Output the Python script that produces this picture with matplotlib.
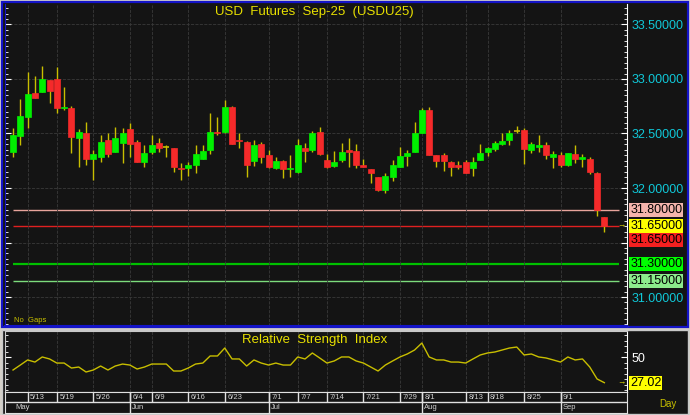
import matplotlib
matplotlib.use("Agg")
import matplotlib.pyplot as plt
from matplotlib.patches import Rectangle
from matplotlib.ticker import MultipleLocator

plt.rcParams['font.family'] = ['Liberation Sans', 'DejaVu Sans']

# daily candles, USD futures Sep-25
opens = [32.33, 32.48, 32.65, 32.87, 32.88, 32.99, 33.00, 32.73, 32.73, 32.46,
         32.50, 32.27, 32.28, 32.44, 32.33, 32.41, 32.54, 32.42, 32.24, 32.33,
         32.41, 32.38, 32.37, 32.18, 32.18, 32.21, 32.27, 32.35, 32.51, 32.51,
         32.74, 32.44, 32.42, 32.25, 32.40, 32.30, 32.18, 32.25, 32.17, 32.15,
         32.37, 32.35, 32.51, 32.26, 32.20, 32.26, 32.35, 32.34, 32.21, 32.17,
         32.10, 31.98, 32.10, 32.19, 32.29, 32.33, 32.50, 32.72, 32.30, 32.30,
         32.24, 32.21, 32.24, 32.18, 32.26, 32.33, 32.36, 32.40, 32.44, 32.52,
         32.53, 32.35, 32.38, 32.39, 32.28, 32.30, 32.21, 32.31, 32.27, 32.27,
         32.14, 31.73]
highs = [32.55, 32.82, 33.06, 33.03, 33.12, 32.99, 33.11, 32.93, 32.75, 32.54,
         32.61, 32.35, 32.49, 32.50, 32.56, 32.55, 32.60, 32.44, 32.39, 32.49,
         32.46, 32.39, 32.37, 32.23, 32.24, 32.39, 32.39, 32.69, 32.65, 32.81,
         32.75, 32.50, 32.43, 32.44, 32.42, 32.35, 32.28, 32.26, 32.30, 32.45,
         32.41, 32.52, 32.56, 32.31, 32.34, 32.41, 32.46, 32.40, 32.27, 32.17,
         32.10, 32.14, 32.26, 32.38, 32.35, 32.61, 32.73, 32.74, 32.30, 32.32,
         32.25, 32.25, 32.26, 32.28, 32.40, 32.38, 32.43, 32.50, 32.53, 32.57,
         32.55, 32.42, 32.49, 32.42, 32.34, 32.33, 32.32, 32.39, 32.31, 32.28,
         32.15, 31.73]
lows = [32.28, 32.39, 32.55, 32.83, 32.88, 32.78, 32.69, 32.72, 32.32, 32.19,
        32.21, 32.07, 32.24, 32.28, 32.33, 32.23, 32.28, 32.24, 32.19, 32.31,
        32.33, 32.28, 32.15, 32.07, 32.11, 32.14, 32.27, 32.31, 32.49, 32.50,
        32.40, 32.37, 32.10, 32.20, 32.23, 32.18, 32.17, 32.09, 32.10, 32.14,
        32.24, 32.33, 32.30, 32.18, 32.19, 32.24, 32.19, 32.18, 32.19, 32.05,
        31.97, 31.95, 32.06, 32.19, 32.20, 32.33, 32.50, 32.30, 32.19, 32.16,
        32.11, 32.17, 32.14, 32.11, 32.26, 32.29, 32.34, 32.39, 32.39, 32.50,
        32.22, 32.32, 32.33, 32.27, 32.18, 32.19, 32.20, 32.23, 32.19, 32.13,
        31.74, 31.60]
closes = [32.49, 32.66, 32.86, 32.83, 33.00, 32.89, 32.73, 32.74, 32.47, 32.51,
          32.27, 32.31, 32.42, 32.31, 32.46, 32.50, 32.40, 32.24, 32.32, 32.39,
          32.37, 32.38, 32.19, 32.17, 32.21, 32.31, 32.34, 32.51, 32.50, 32.74,
          32.40, 32.43, 32.21, 32.39, 32.28, 32.19, 32.25, 32.17, 32.18, 32.39,
          32.34, 32.50, 32.31, 32.19, 32.24, 32.33, 32.33, 32.21, 32.19, 32.14,
          31.98, 32.11, 32.21, 32.29, 32.32, 32.50, 32.72, 32.30, 32.25, 32.25,
          32.19, 32.19, 32.14, 32.24, 32.32, 32.37, 32.41, 32.43, 32.50, 32.52,
          32.36, 32.40, 32.39, 32.30, 32.31, 32.21, 32.32, 32.27, 32.28, 32.15,
          31.80, 31.65]
rsi = [38.5, 43.0, 47.6, 45.7, 50.3, 48.5, 44.8, 44.8, 40.3, 41.2,
       36.7, 38.5, 42.1, 38.5, 42.1, 43.9, 43.0, 39.4, 41.2, 43.9,
       43.9, 43.9, 37.6, 37.6, 40.3, 43.9, 44.8, 51.2, 51.2, 58.4,
       48.5, 48.5, 42.1, 47.6, 44.8, 43.0, 44.8, 43.0, 43.0, 50.3,
       48.5, 53.9, 49.4, 44.8, 46.7, 50.3, 50.3, 46.7, 44.8, 41.2,
       37.6, 43.0, 46.7, 50.3, 53.0, 56.6, 62.9, 50.3, 47.6, 47.6,
       45.7, 45.7, 44.8, 48.5, 52.1, 53.9, 54.8, 56.6, 58.4, 59.3,
       52.1, 53.0, 50.3, 49.4, 47.6, 45.7, 50.3, 47.6, 48.5, 41.2,
       30.4, 27.02]

date_pos = [2, 6, 11, 16, 19, 24, 29, 35, 39, 43, 48, 53, 56, 62, 65, 70, 75]
date_lbl = ['5/13', '5/19', '5/26', '6/4', '6/9', '6/16', '6/23', '7/1', '7/7',
            '7/14', '7/21', '7/29', '8/1', '8/13', '8/18', '8/25', '9/1']
month_pos = [-1.1, 16, 35, 56, 75]
month_lbl = ['May', 'Jun', 'Jul', 'Aug', 'Sep']

levels = [31.80, 31.65, 31.30, 31.15]
level_colors = ['#E8A49C', '#E02020', '#00C000', '#7CDC7C']
level_widths = [1.0, 1.0, 1.6, 1.0]
level_boxes = ['#F4B4AC', '#FFFF00', '#00FF00', '#8CEC8C']
last_price = 31.65

BG = '#141414'
WICK = '#C8BE00'
xlim = (-1.1, 84.1)

fig = plt.figure(figsize=(6.9, 4.15), dpi=100, facecolor='#D4D0C8')
fig.patches.append(Rectangle((2/690, 88/415), 686/690, 325/415, transform=fig.transFigure,
                             facecolor=BG, edgecolor='#1414C8', lw=1.6, zorder=-5))
fig.patches.append(Rectangle((2/690, 1/415), 686/690, 84/415, transform=fig.transFigure,
                             facecolor=BG, edgecolor='#C8C8C8', lw=1.0, zorder=-5))

# ---- price panel
ax = fig.add_axes([5/690, 89/415, 622/690, 322/415])
ax.set_facecolor(BG)
x = list(range(len(opens)))
for i in x:
    o, h, l, c = opens[i], highs[i], lows[i], closes[i]
    ax.vlines(i, l, h, color=WICK, lw=1.0, zorder=2)
    if c == o:
        ax.hlines(o, i - 0.42, i + 0.42, color=WICK, lw=1.2, zorder=3)
        continue
    col = '#00F000' if c > o else '#F52A2A'
    ax.bar(i, max(abs(c - o), 0.012), bottom=min(o, c), width=0.82,
           color=col, edgecolor=col, lw=0.5, zorder=3)

for lv, lc, lw in zip(levels, level_colors, level_widths):
    ax.hlines(lv, 0, 83.0, color=lc, lw=lw, zorder=1.5)

ax.set_xlim(*xlim)
ax.set_ylim(30.734, 33.688)
ax.set_xticks(date_pos)
ax.tick_params(axis='x', length=0, labelbottom=False)
ax.yaxis.set_major_locator(MultipleLocator(0.5))
ax.yaxis.set_minor_locator(MultipleLocator(0.05))
ax.yaxis.set_major_formatter(lambda v, p: f'{v:.5f}')
ax.tick_params(axis='y', which='both', left=True, right=True, labelleft=False,
               labelright=True, direction='in', color='white', labelcolor='#10C8D8',
               labelsize=9, pad=3)
ax.tick_params(axis='y', which='major', length=4)
ax.tick_params(axis='y', which='minor', length=2.5)
ax.grid(True, color='#3A3A3A', ls='--', lw=0.6, zorder=0)
ax.spines['top'].set_visible(False)
ax.spines['left'].set_color('#1414C8')
ax.spines['right'].set_color('white')
ax.spines['bottom'].set_color('#1414C8')
ax.spines['bottom'].set_linewidth(1.5)

ax.text(0.498, 0.975, 'USD  Futures  Sep-25  (USDU25)', transform=ax.transAxes,
        ha='center', va='center', color='#E8E000', fontsize=9.5)
ax.text(0.014, 0.016, 'No  Gaps', transform=ax.transAxes, ha='left', va='center',
        color='#C8C000', fontsize=5.5)

tr = ax.get_yaxis_transform()
box_y = [31.80, 31.65, 31.30, 31.15]
for yv, bc in zip(box_y, level_boxes):
    ax.text(1.005, yv, f'{yv:.5f}', transform=tr, ha='left', va='center', fontsize=9,
            color='black', clip_on=False, zorder=5,
            bbox=dict(boxstyle='square,pad=0.08', fc=bc, ec='none'))
ax.text(1.005, 31.523, f'{last_price:.5f}', transform=tr, ha='left', va='center',
        fontsize=9, color='black', clip_on=False, zorder=5,
        bbox=dict(boxstyle='square,pad=0.08', fc='#F52020', ec='none'))
ax.text(83.4, last_price, '→', color='#E8E000', fontsize=6, ha='center', va='center')

# ---- RSI panel
ar = fig.add_axes([5/690, 23/415, 622/690, 61/415])
ar.set_facecolor(BG)
ar.plot(x, rsi, color='#C8BE00', lw=1.0)
ar.set_xlim(*xlim)
ar.set_ylim(18.6, 73.8)
ar.set_xticks(date_pos)
ar.tick_params(axis='x', length=0, labelbottom=False)
ar.set_yticks([50])
ar.yaxis.set_minor_locator(MultipleLocator(5))
ar.tick_params(axis='y', which='both', left=True, right=True, labelleft=False,
               labelright=True, direction='in', color='white', labelcolor='white',
               labelsize=9, pad=3)
ar.tick_params(axis='y', which='major', length=4)
ar.tick_params(axis='y', which='minor', length=2.5)
ar.grid(True, axis='x', color='#3A3A3A', ls='--', lw=0.6)
for s in ['top', 'left']:
    ar.spines[s].set_color('#C8C8C8')
ar.spines['right'].set_color('white')
ar.spines['bottom'].set_color('white')
ar.text(0.498, 0.85, 'Relative  Strength  Index', transform=ar.transAxes,
        ha='center', va='center', color='#E8E000', fontsize=9.5)
ar.text(1.005, rsi[-1], f'{rsi[-1]:.2f}', transform=ar.get_yaxis_transform(),
        ha='left', va='center', fontsize=9, color='black', clip_on=False,
        bbox=dict(boxstyle='square,pad=0.08', fc='#FFFF00', ec='none'))
ar.text(83.4, rsi[-1], '→', color='#E8E000', fontsize=6, ha='center', va='center')

# ---- date strip
ad = fig.add_axes([5/690, 2/415, 622/690, 21/415])
ad.set_facecolor(BG)
ad.set_xlim(*xlim)
ad.set_ylim(0, 2)
ad.set_xticks([])
ad.set_yticks([])
for s in ad.spines.values():
    s.set_color('#E0E0E0')
ad.axhline(1.05, color='#E0E0E0', lw=1.0)
for p, t in zip(date_pos, date_lbl):
    ad.vlines(p, 1.05, 2, color='#E0E0E0', lw=1.0)
    ad.text(p + 0.35, 1.5, t, color='#D0D0D0', fontsize=5.5, ha='left', va='center')
for p, t in zip(month_pos, month_lbl):
    if p > 0:
        ad.vlines(p, 0, 2, color='#E0E0E0', lw=1.0)
    ad.text(max(p, 0) + 0.35, 0.5, t, color='#D0D0D0', fontsize=5.5, ha='left', va='center')

fig.text(668/690, 1 - 404/415, 'Day', color='#C8C000', fontsize=7, ha='center', va='center')

fig.savefig('out.png', dpi=100, facecolor=fig.get_facecolor())
